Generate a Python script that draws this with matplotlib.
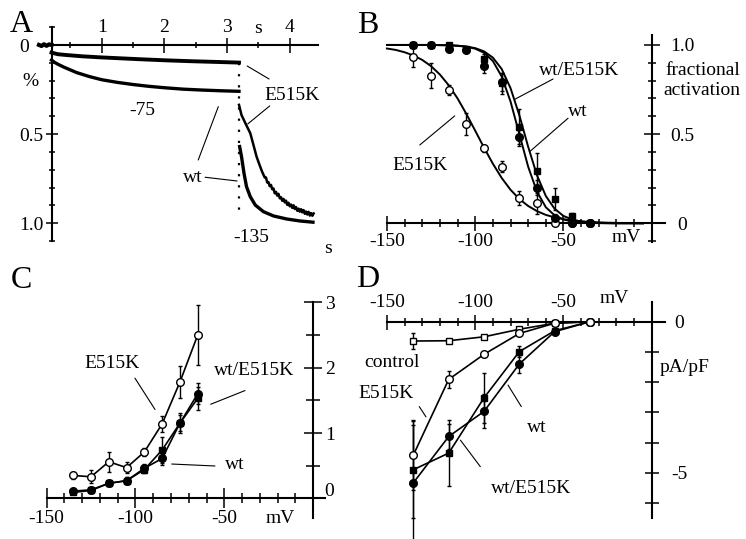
import matplotlib.pyplot as plt

plt.rcParams['font.family'] = ['Liberation Serif', 'DejaVu Serif']
plt.rcParams['font.size'] = 14
plt.rcParams['axes.unicode_minus'] = False

# ---- A: normalised current traces (time in s, fraction activated)
pre_t = [0.0, 0.04, 0.08, 0.12, 0.16, 0.2]
pre_v = [0.0, 0.006, -0.004, 0.005, -0.003, 0.0]

wt75_t = [0.2, 0.25, 0.3, 0.4, 0.5, 0.6, 0.8, 1.0, 1.25, 1.5, 1.75, 2.0, 2.3, 2.6, 2.9, 3.19]
wt75_v = [0.085, 0.098, 0.108, 0.125, 0.14, 0.155, 0.177, 0.195, 0.21, 0.222, 0.232, 0.24, 0.248, 0.253, 0.257, 0.26]

mut75_t = [0.2, 0.3, 0.45, 0.7, 1.0, 1.3, 1.6, 2.0, 2.4, 2.8, 3.19]
mut75_v = [0.043, 0.052, 0.057, 0.064, 0.07, 0.075, 0.08, 0.086, 0.091, 0.095, 0.099]

step_t = [3.19, 3.19]
step_v = [0.10, 0.95]

wt135_t = [3.20, 3.23, 3.27, 3.31, 3.37, 3.45, 3.58, 3.74, 3.95, 4.16, 4.37]
wt135_v = [0.570, 0.626, 0.720, 0.795, 0.851, 0.898, 0.935, 0.959, 0.976, 0.987, 0.994]

mut135_t = [3.19, 3.23, 3.30, 3.37, 3.42, 3.47, 3.52, 3.56,
            3.60, 3.62, 3.64, 3.66, 3.68, 3.70, 3.72, 3.74, 3.76, 3.78,
            3.80, 3.82, 3.84, 3.86, 3.88, 3.90, 3.92, 3.94, 3.96, 3.98,
            4.00, 4.02, 4.04, 4.06, 4.08, 4.10, 4.12, 4.14, 4.16, 4.18,
            4.20, 4.22, 4.24, 4.26, 4.28, 4.30, 4.32, 4.34, 4.36, 4.38]
mut135_v = [0.336, 0.393, 0.445, 0.495, 0.56, 0.626, 0.675, 0.712,
            0.743, 0.743, 0.771, 0.769, 0.792, 0.785, 0.809, 0.805, 0.832, 0.824,
            0.845, 0.835, 0.860, 0.854, 0.874, 0.863, 0.883, 0.873, 0.897, 0.885,
            0.905, 0.895, 0.914, 0.899, 0.920, 0.909, 0.930, 0.918, 0.935, 0.921,
            0.939, 0.926, 0.947, 0.934, 0.951, 0.936, 0.957, 0.943, 0.958, 0.945]

# ---- B: activation curves
b_V = [-135, -125, -115, -105, -95, -85, -75, -65, -55, -45, -35]
b_mut = [0.935, 0.826, 0.748, 0.557, 0.421, 0.318, 0.14, 0.112, 0.0, 0.0, 0.0]
b_mut_err = [0.06, 0.07, 0.03, 0.06, 0.02, 0.03, 0.04, 0.06, 0.0, 0.0, 0.0]
b_wt = [1.0, 1.0, 0.976, 0.97, 0.88, 0.79, 0.486, 0.2, 0.03, 0.0, 0.0]
b_wt_err = [0.0, 0.0, 0.01, 0.01, 0.04, 0.05, 0.05, 0.04, 0.02, 0.0, 0.0]
b_het = [1.0, 1.0, 1.0, 0.98, 0.92, 0.785, 0.542, 0.295, 0.135, 0.04, 0.0]
b_het_err = [0.0, 0.0, 0.0, 0.01, 0.03, 0.06, 0.1, 0.1, 0.06, 0.02, 0.0]

fit_V = [-150, -145, -140, -135, -130, -125, -120, -115, -110, -105, -100, -95, -90, -85, -80,
         -75, -70, -65, -60, -55, -50, -45, -40, -35, -30, -25, -20, -15, -10, -5]
fit_mut = [0.980, 0.972, 0.959, 0.941, 0.916, 0.881, 0.834, 0.774, 0.700, 0.613, 0.519, 0.424, 0.334, 0.254, 0.188,
           0.136, 0.097, 0.068, 0.047, 0.033, 0.023, 0.015, 0.011, 0.007, 0.005, 0.003, 0.002, 0.001, 0.001, 0.0]
fit_wt = [1.0, 1.0, 1.0, 1.0, 1.0, 1.0, 0.999, 0.998, 0.995, 0.990, 0.979, 0.956, 0.910, 0.823, 0.683,
          0.5, 0.317, 0.177, 0.090, 0.044, 0.021, 0.010, 0.005, 0.002, 0.001, 0.0, 0.0, 0.0, 0.0, 0.0]
fit_het = [1.0, 1.0, 1.0, 1.0, 1.0, 1.0, 0.999, 0.998, 0.996, 0.991, 0.982, 0.964, 0.929, 0.865, 0.758,
           0.606, 0.429, 0.269, 0.153, 0.081, 0.041, 0.021, 0.010, 0.005, 0.002, 0.001, 0.0, 0.0, 0.0, 0.0]

# ---- C: deactivation time constants (s)
c_V = [-135, -125, -115, -105, -95, -85, -75, -65]
c_mut = [0.35, 0.33, 0.56, 0.47, 0.71, 1.14, 1.78, 2.50]
c_mut_err = [0.06, 0.10, 0.15, 0.08, 0.06, 0.12, 0.25, 0.46]
c_wt = [0.11, 0.13, 0.23, 0.27, 0.46, 0.61, 1.15, 1.60]
c_wt_err = [0.04, 0.03, 0.04, 0.05, 0.06, 0.10, 0.15, 0.16]
c_het = [0.09, 0.12, 0.23, 0.27, 0.44, 0.74, 1.15, 1.53]
c_het_err = [0.03, 0.03, 0.04, 0.05, 0.06, 0.20, 0.12, 0.18]

# ---- D: current densities (pA/pF)
d_V = [-135, -115, -95, -75, -55, -35]
d_ctrl = [-0.64, -0.63, -0.50, -0.25, -0.05, 0.0]
d_ctrl_err = [0.26, 0.03, 0.03, 0.03, 0.02, 0.0]
d_mut = [-4.41, -1.91, -1.08, -0.39, -0.05, 0.0]
d_mut_err = [1.15, 0.27, 0.1, 0.05, 0.0, 0.0]
d_wt = [-5.33, -3.80, -2.97, -1.40, -0.33, 0.0]
d_wt_err = [1.9, 0.4, 0.56, 0.3, 0.05, 0.0]
d_het = [-4.90, -4.35, -2.52, -0.99, -0.30, 0.0]
d_het_err = [1.6, 1.1, 0.83, 0.17, 0.05, 0.0]

W, H = 746, 539
fig = plt.figure(figsize=(W / 100, H / 100), dpi=100)


def panel(x0, y0, x1, y1):
    ax = fig.add_axes([x0 / W, 1 - y1 / H, (x1 - x0) / W, (y1 - y0) / H])
    ax.patch.set_visible(False)
    for s in ax.spines.values():
        s.set_linewidth(1.5)
    return ax


def leader(ax, p0, p1):
    ax.annotate('', xy=p1, xytext=p0,
                arrowprops=dict(arrowstyle='-', lw=0.8, color='k', shrinkA=0, shrinkB=0))


def ebar(ax, x, y, e, mk, face, ms, ls='none'):
    ax.errorbar(x, y, yerr=e, fmt=mk, ls=ls, color='k', lw=1.2, ms=ms, mfc=face, mec='k', mew=1.0,
                ecolor='k', elinewidth=1.0, capsize=1.5, capthick=1.0, zorder=3, clip_on=False)


# ================= A
axA = panel(0, 0, 340, 260)
axA.set_xlim(-0.622, 4.801)
axA.set_ylim(1.206, -0.252)
axA.spines['bottom'].set_visible(False)
axA.spines['right'].set_visible(False)
axA.spines['top'].set_position(('data', 0))
axA.spines['top'].set_bounds(0.2, 4.45)
axA.spines['left'].set_position(('data', 0.2))
axA.spines['left'].set_bounds(-0.1, 1.1)
axA.xaxis.tick_top()
axA.set_xticks([1, 2, 3, 4])
axA.set_xticks([0.5, 1.5, 2.5, 3.5], minor=True)
axA.set_yticks([0.5, 1.0], ['0.5', '1.0'])
axA.set_yticks([-0.1, 0.1, 0.2, 0.3, 0.4, 0.6, 0.7, 0.8, 0.9, 1.1], minor=True)
axA.tick_params(axis='x', which='major', direction='inout', length=10.8, width=1.1, pad=1.1)
axA.tick_params(axis='x', which='minor', direction='inout', length=5, width=1.1)
axA.tick_params(axis='y', which='major', direction='inout', length=8.4, width=1.1, pad=1.4)
axA.tick_params(axis='y', which='minor', direction='inout', length=4.8, width=1.1)

axA.plot(pre_t, pre_v, color='k', lw=3)
axA.plot(wt75_t, wt75_v, color='k', lw=2.4)
axA.plot(mut75_t, mut75_v, color='k', lw=2.8)
axA.plot(step_t, step_v, color='k', lw=1.6, ls=(0, (1, 4)))
axA.plot(wt135_t, wt135_v, color='k', lw=2.4)
axA.plot(mut135_t, mut135_v, color='k', lw=1.8)

axA.text(-0.24, 0.037, '0', ha='center', va='baseline')
axA.text(-0.144, 0.23, '%', ha='center', va='baseline')
axA.text(3.49, -0.067, 's', ha='center', va='baseline')
axA.text(4.03, 0.308, 'E515K', ha='center', va='baseline')
axA.text(1.65, 0.393, '-75', ha='center', va='baseline')
axA.text(2.45, 0.767, 'wt', ha='center', va='baseline')
axA.text(3.39, 1.103, '-135', ha='center', va='baseline')
leader(axA, (3.32, 0.118), (3.67, 0.191))
leader(axA, (3.33, 0.443), (3.68, 0.342))
leader(axA, (2.54, 0.645), (2.86, 0.346))
leader(axA, (2.65, 0.742), (3.16, 0.763))

# ================= B
axB = panel(373, 0, 746, 260)
axB.set_xlim(-157.9, 53.4)
axB.set_ylim(-0.206, 1.252)
axB.spines['top'].set_visible(False)
axB.spines['left'].set_visible(False)
axB.spines['bottom'].set_position(('data', 0))
axB.spines['bottom'].set_bounds(-150, 7.5)
axB.spines['right'].set_position(('data', 0))
axB.spines['right'].set_bounds(-0.103, 1.056)
axB.yaxis.tick_right()
axB.set_xticks([-150, -100, -50, 0], ['-150', '-100', '-50', ''])
axB.set_xticks([-140, -130, -120, -110, -90, -80, -70, -60, -40, -30, -20, -10], minor=True)
axB.set_yticks([0, 0.5, 1.0], ['0', '0.5', '1.0'])
axB.set_yticks([-0.1, 0.1, 0.2, 0.3, 0.4, 0.6, 0.7, 0.8, 0.9], minor=True)
axB.tick_params(axis='x', which='major', direction='inout', length=10.8, width=1.1, pad=1.6)
axB.tick_params(axis='x', which='minor', direction='inout', length=5.3, width=1.1)
axB.tick_params(axis='y', which='major', direction='inout', length=12, width=1.1, pad=15.8)
axB.tick_params(axis='y', which='minor', direction='inout', length=6, width=1.1)
for lab in axB.get_yticklabels():
    lab.set_horizontalalignment('center')

axB.plot(fit_V, fit_mut, color='k', lw=1.4)
axB.plot(fit_V, fit_wt, color='k', lw=1.4)
axB.plot(fit_V, fit_het, color='k', lw=1.4)
ebar(axB, b_V, b_mut, b_mut_err, 'o', 'white', 5.5)
ebar(axB, b_V, b_wt, b_wt_err, 'o', 'black', 5.5)
ebar(axB, b_V, b_het, b_het_err, 's', 'black', 5)

axB.text(-41.2, 0.832, 'wt/E515K', ha='center', va='baseline')
axB.text(-41.8, 0.602, 'wt', ha='center', va='baseline')
axB.text(-131.5, 0.299, 'E515K', ha='center', va='baseline')
axB.text(7.5, 0.832, 'fractional', ha='left', va='baseline')
axB.text(6.6, 0.72, 'activation', ha='left', va='baseline')
axB.text(-14.6, -0.103, 'mV', ha='center', va='baseline')
leader(axB, (-77.6, 0.695), (-55.9, 0.809))
leader(axB, (-69.1, 0.402), (-47.4, 0.589))
leader(axB, (-131.4, 0.439), (-111.6, 0.602))

# ================= C
axC = panel(0, 270, 373, 539)
axC.set_xlim(-176.2, 33.6)
axC.set_ylim(-0.623, 3.496)
axC.spines['top'].set_visible(False)
axC.spines['left'].set_visible(False)
axC.spines['bottom'].set_position(('data', 0))
axC.spines['bottom'].set_bounds(-150, 6.6)
axC.spines['right'].set_position(('data', 0))
axC.spines['right'].set_bounds(-0.306, 3.0)
axC.yaxis.tick_right()
axC.set_xticks([-150, -100, -50, 0], ['-150', '-100', '-50', ''])
axC.set_xticks([-140, -130, -120, -110, -90, -80, -70, -60, -40, -30, -20, -10], minor=True)
axC.set_yticks([0, 1, 2, 3], ['', '1', '2', '3'])
axC.set_yticks([0.5, 1.5, 2.5], minor=True)
axC.tick_params(axis='x', which='major', direction='inout', length=14.4, width=1.1, pad=1.2)
axC.tick_params(axis='x', which='minor', direction='inout', length=7.7, width=1.1)
axC.tick_params(axis='y', which='major', direction='inout', length=12.7, width=1.1, pad=2)
axC.tick_params(axis='y', which='minor', direction='inout', length=10, width=1.1)

ebar(axC, c_V, c_mut, c_mut_err, 'o', 'white', 5.5, ls='-')
ebar(axC, c_V, c_het, c_het_err, 's', 'black', 5, ls='-')
ebar(axC, c_V, c_wt, c_wt_err, 'o', 'black', 5.5, ls='-')

axC.text(8.8, 0.035, '0', ha='center', va='baseline')
axC.text(8.3, 3.75, 's', ha='center', va='baseline')
axC.text(-18.3, -0.383, 'mV', ha='center', va='baseline')
axC.text(-113.4, 1.99, 'E515K', ha='center', va='baseline')
axC.text(-33.4, 1.888, 'wt/E515K', ha='center', va='baseline')
axC.text(-44.0, 0.444, 'wt', ha='center', va='baseline')
leader(axC, (-100.3, 1.84), (-89.0, 1.36))
leader(axC, (-57.7, 1.44), (-38.4, 1.65))
leader(axC, (-79.6, 0.525), (-55.3, 0.495))

# ================= D
axD = panel(373, 270, 746, 539)
axD.set_xlim(-157.9, 53.4)
axD.set_ylim(-7.195, 1.712)
axD.spines['bottom'].set_visible(False)
axD.spines['left'].set_visible(False)
axD.spines['top'].set_position(('data', 0))
axD.spines['top'].set_bounds(-150, 7.5)
axD.spines['right'].set_position(('data', 0))
axD.spines['right'].set_bounds(-6.51, 0.64)
axD.xaxis.tick_top()
axD.yaxis.tick_right()
axD.set_xticks([-150, -100, -50, 0], ['-150', '-100', '-50', ''])
axD.set_xticks([-140, -130, -120, -110, -90, -80, -70, -60, -40, -30, -20, -10], minor=True)
axD.set_yticks([0, -5], ['0', '-5'])
axD.set_yticks([-1, -2, -3, -4, -6], minor=True)
axD.tick_params(axis='x', which='major', direction='inout', length=10.8, width=1.1, pad=2)
axD.tick_params(axis='x', which='minor', direction='inout', length=6, width=1.1)
axD.tick_params(axis='y', which='both', direction='inout', length=9.7, width=1.1, pad=15.2)
for lab in axD.get_yticklabels():
    lab.set_horizontalalignment('center')

ebar(axD, d_V, d_ctrl, d_ctrl_err, 's', 'white', 5, ls='-')
ebar(axD, d_V, d_wt, d_wt_err, 'o', 'black', 5.5, ls='-')
ebar(axD, d_V, d_het, d_het_err, 's', 'black', 5, ls='-')
ebar(axD, d_V, d_mut, d_mut_err, 'o', 'white', 5.5, ls='-')

axD.text(-131.3, -1.49, 'control', ha='right', va='baseline')
axD.text(-135.1, -2.54, 'E515K', ha='right', va='baseline')
axD.text(-65.2, -3.66, 'wt', ha='center', va='baseline')
axD.text(-68.2, -5.68, 'wt/E515K', ha='center', va='baseline')
axD.text(18.6, -1.66, 'pA/pF', ha='center', va='baseline')
axD.text(-21.3, 0.61, 'mV', ha='center', va='baseline')
leader(axD, (-131.7, -2.81), (-127.9, -3.15))
leader(axD, (-81.4, -2.10), (-73.9, -2.81))
leader(axD, (-108.4, -3.92), (-97.1, -4.80))

# panel letters
for letter, px, py in [('A', 21.5, 32), ('B', 368, 33), ('C', 21, 288), ('D', 368, 287)]:
    fig.text(px / W, 1 - py / H, letter, fontsize=23, ha='center', va='baseline')

fig.savefig('out.png', dpi=100)
